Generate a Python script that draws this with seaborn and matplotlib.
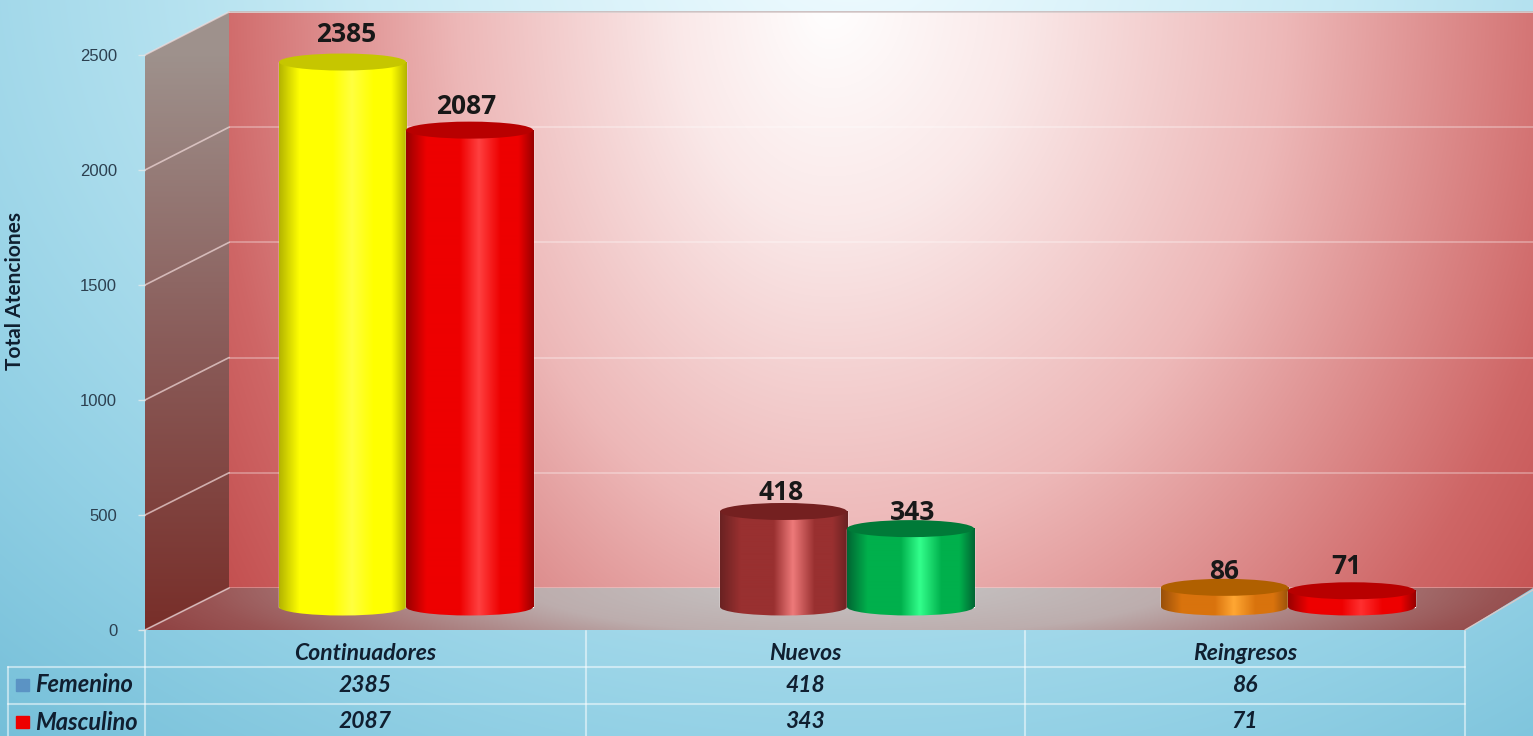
import numpy as np
import pandas as pd
import matplotlib
matplotlib.use("Agg")
import matplotlib.pyplot as plt
from matplotlib.patches import Ellipse, Polygon, Rectangle, ConnectionPatch
import seaborn as sns

# ---- data ----
categories = ["Continuadores", "Nuevos", "Reingresos"]
femenino = [2385, 418, 86]
masculino = [2087, 343, 71]
series_names = ["Femenino", "Masculino"]
y_ticks = [0, 500, 1000, 1500, 2000, 2500]
y_title = "Total Atenciones"

# ---- styles ----
W, H = 1533, 736
legend_colors = ["#5b93c4", "#ee0000"]
# per-bar styling: (edge, mid, highlight, top)
fem_styles = [
    ("#b4b400", "#ffff00", "#ffff40", "#c6c600"),
    ("#6a2222", "#993030", "#ee7a7a", "#742020"),
    ("#99500a", "#d9730d", "#ffa733", "#b06000"),
]
mas_styles = [
    ("#990000", "#ee0000", "#ff4040", "#b80000"),
    ("#006633", "#00b04c", "#33ff8c", "#007a38"),
    ("#990000", "#ee0000", "#ff3030", "#b80000"),
]
label_offsets_fem = [(4, 28), (-2, 19), (0, 16)]
label_offsets_mas = [(-3, 24), (2, 16), (-5, 24)]

sns.set_theme(style="white")
plt.rcParams["font.family"] = ["Lato", "DejaVu Sans"]


def rgb(c):
    return np.array(matplotlib.colors.to_rgb(c))


def px_axes(fig, x0, x1, ytop, ybot):
    return fig.add_axes([x0 / W, 1 - ybot / H, (x1 - x0) / W, (ybot - ytop) / H])


def ramp(t, stops):
    pos = [s[0] for s in stops]
    return np.stack([np.interp(t, pos, [s[1][i] for s in stops]) for i in range(3)], axis=-1)


fig = plt.figure(figsize=(W / 100, H / 100), dpi=100)

# ---- background layer (pixel coordinates) ----
bg = fig.add_axes([0, 0, 1, 1], zorder=0)
X, Y = np.meshgrid(np.arange(W) + 0.5, np.arange(H) + 0.5)
extent = (0, W, H, 0)

t = np.sqrt(((X - 850) / 1000) ** 2 + ((Y + 50) / 800) ** 2)
bg.imshow(ramp(t, [(0, (.94, .985, 1)), (.5, (.78, .92, .96)), (1, (.58, .82, .90)), (1.3, (.46, .75, .85))]),
          extent=extent, aspect="auto", zorder=0)

# side wall
t = (Y - 55) / 575
im = bg.imshow(ramp(t, [(0, (.62, .57, .55)), (.5, (.54, .36, .35)), (1, (.47, .18, .16))]),
               extent=extent, aspect="auto", zorder=1)
side = Polygon([(145, 55), (229, 12), (229, 588), (145, 630)], transform=bg.transData)
im.set_clip_path(side)

# back wall
rx = np.where(X < 830, 620, 760)
r = np.sqrt(((X - 830) / rx) ** 2 + ((Y - 0) / 900) ** 2)
im = bg.imshow(ramp(r, [(0, (1, 1, 1)), (.25, (.98, .91, .91)), (.6, (.93, .72, .72)),
                        (1, (.81, .40, .40)), (1.2, (.76, .30, .30))]),
               extent=extent, aspect="auto", zorder=1)
im.set_clip_path(Rectangle((229, 12), W - 229, 576, transform=bg.transData))

# floor
r = np.sqrt(((X - 850) / 650) ** 2 + ((Y - 585) / 100) ** 2)
im = bg.imshow(ramp(r, [(0, (.78, .78, .78)), (.5, (.74, .68, .68)), (1, (.60, .33, .33)), (1.3, (.53, .20, .20))]),
               extent=extent, aspect="auto", zorder=1)
im.set_clip_path(Polygon([(145, 630), (229, 588), (W, 588), (1465, 630)], transform=bg.transData))

bg.plot([229, W], [12, 12], color="#c9b8b8", lw=1.2, zorder=2)

# table rules
rule = dict(color="white", alpha=.5, lw=1.5, zorder=2)
col_edges = [145, 586, 1025, 1465]
row_rules = [667, 704]
for xe in col_edges:
    bg.plot([xe, xe], [631, H], **rule)
bg.plot([8, 8], [667, H], **rule)
for yr in row_rules:
    bg.plot([8, 1465], [yr, yr], **rule)
bg.plot([1465, W], [630, 590], color="#d8c8c8", lw=1, zorder=2)

txt = dict(style="italic", fontweight="bold", fontsize=16.5, color="#101f30",
           ha="center", va="center", zorder=3)
for i, cat in enumerate(categories):
    xc = (col_edges[i] + col_edges[i + 1]) / 2
    bg.text(xc, 653, cat, **txt)
    bg.text(xc, 685, str(femenino[i]), **txt)
    bg.text(xc, 722, str(masculino[i]), **txt)
for name, col, yc in zip(series_names, legend_colors, [685, 722]):
    bg.add_patch(Rectangle((16, yc - 6), 13, 12, color=col, zorder=3))
    bg.text(35, yc, name, **{**txt, "ha": "left", "fontsize": 17})
bg.set_xlim(0, W)
bg.set_ylim(H, 0)
bg.axis("off")

# ---- back-wall gridlines (same value scale as the wall) ----
wall = px_axes(fig, 229, W, 12, 588)
wall.set_zorder(1)
wall.patch.set_alpha(0)
wall.set_xlim(0, 1)
wall.set_ylim(0, 2500)
wall.set_yticks(y_ticks)
wall.tick_params(left=False, labelleft=False, bottom=False, labelbottom=False)
wall.grid(axis="y", color="white", alpha=.35, lw=1.2)
for s in wall.spines.values():
    s.set_visible(False)

# ---- front value axis ----
ay = px_axes(fig, 145, 146, 55, 630)
ay.set_zorder(1)
ay.patch.set_alpha(0)
ay.set_xlim(0, 1)
ay.set_ylim(0, 2500)
ay.set_yticks(y_ticks)
ay.set_xticks([])
ay.tick_params(axis="y", length=5, width=1, color="#d8e6ea", labelsize=12, labelcolor="#2c4050", pad=15, left=True)
for lab in ay.get_yticklabels():
    lab.set_fontfamily("Liberation Sans")
ay.set_ylabel(y_title, fontsize=15, fontweight="bold", color="#101f30")
ay.yaxis.set_label_coords(25, 291, transform=bg.transData)
for s in ay.spines.values():
    s.set_visible(False)
for tick in y_ticks:
    fig.add_artist(ConnectionPatch(xyA=(0, tick), coordsA=ay.transData, xyB=(0, tick), coordsB=wall.transData,
                                   color="#f3dcdc", lw=1.2, alpha=.7, zorder=0.5))

# ---- bars ----
PX_PER_UNIT = 0.2285
BASE_PX, LOW = 607, -60
ax = px_axes(fig, 185.5, 1508.5, BASE_PX - 2500 * PX_PER_UNIT, BASE_PX - LOW * PX_PER_UNIT)
ax.set_zorder(3)
ax.patch.set_alpha(0)

df = pd.DataFrame({
    "categoria": categories * 2,
    "total": femenino + masculino,
    "sexo": [series_names[0]] * 3 + [series_names[1]] * 3,
})
sns.barplot(data=df, x="categoria", y="total", hue="sexo", palette=legend_colors,
            width=0.576, saturation=1, legend=False, ax=ax)

ELL_H = 17 / PX_PER_UNIT
z = 5
for container, styles, offsets in zip(ax.containers, [fem_styles, mas_styles],
                                      [label_offsets_fem, label_offsets_mas]):
    for bar, (edge, mid, hi, top), off in zip(container, styles, offsets):
        x0, w, h = bar.get_x(), bar.get_width(), bar.get_height()
        xc = x0 + w / 2
        bar.set_facecolor(mid)
        bar.set_zorder(z)
        u = np.linspace(0, 1, 256)
        grad = ramp(u, [(0, rgb(edge)), (.16, rgb(mid)), (.42, rgb(mid)), (.57, rgb(hi)),
                        (.74, rgb(mid)), (.88, rgb(mid)), (1, rgb(edge))])[None, :, :]
        ax.imshow(grad, extent=(x0, x0 + w, 0, h), aspect="auto", zorder=z + .1, interpolation="bilinear")
        im = ax.imshow(grad, extent=(x0, x0 + w, -ELL_H / 2, 0), aspect="auto", zorder=z + .1,
                       interpolation="bilinear")
        clip = Ellipse((xc, 0), w, ELL_H, transform=ax.transData)
        im.set_clip_path(clip)
        ax.add_patch(Ellipse((xc, h), w, ELL_H, facecolor=top, edgecolor="none", zorder=z + .2))
        ax.annotate(str(int(h)), (xc, h), xytext=off, textcoords="offset pixels", ha="center", va="center",
                    fontsize=19, fontweight="bold", family="Open Sans", color="#181818",
                    zorder=20)
        z += 1

ax.set_xlim(-0.5, 2.5)
ax.set_ylim(LOW, 2500)
ax.axis("off")

fig.savefig("out.png", dpi=100)
